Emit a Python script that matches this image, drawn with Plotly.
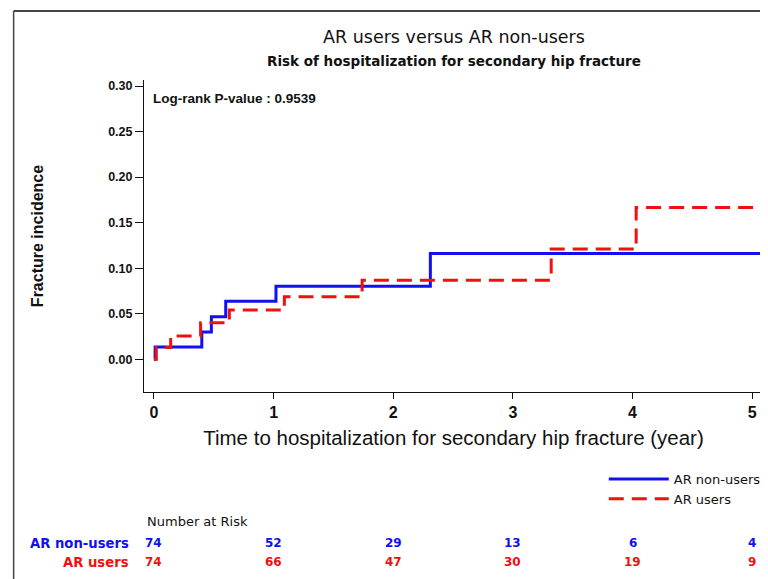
import plotly.graph_objects as go

# ---- data ----
nonusers_t = [0, 0.01, 0.40, 0.48, 0.60, 1.02, 2.31, 5.12]
nonusers_y = [0, 0.0135, 0.030, 0.0465, 0.0637, 0.080, 0.116, 0.116]
users_t = [0, 0.02, 0.14, 0.39, 0.63, 1.09, 1.74, 3.32, 4.03, 5.12]
users_y = [0, 0.013, 0.0256, 0.040, 0.054, 0.0685, 0.0868, 0.121, 0.1667, 0.1667]

risk_times = [0, 1, 2, 3, 4, 5]
risk_nonusers = [74, 52, 29, 13, 6, 4]
risk_users = [74, 66, 47, 30, 19, 9]

y_ticks = [0.00, 0.05, 0.10, 0.15, 0.20, 0.25, 0.30]
x_ticks = [0, 1, 2, 3, 4, 5]

BLUE = "#1010f0"
RED = "#f01010"

OFF = 8  # page body margin
W, H = 768 - OFF, 579 - OFF
# plot area in screen pixels: left 144, right 766, top 80, bottom 392
ML, MR, MT = 144 - OFF, 2, 80 - OFF
MB = H - (392 - OFF)
PW, PH = W - ML - MR, H - MT - MB


def px(xs):
    return (xs - OFF - ML) / PW


def py(ys):
    return ((392 - OFF) - (ys - OFF)) / PH


fig = go.Figure()
fig.add_trace(go.Scatter(x=nonusers_t, y=nonusers_y, mode="lines", line_shape="hv",
                         line=dict(color=BLUE, width=3), name="AR non-users"))
fig.add_trace(go.Scatter(x=users_t, y=users_y, mode="lines", line_shape="hv",
                         line=dict(color=RED, width=3, dash="15px,8px"), name="AR users"))

ann = []
ann.append(dict(text="AR users versus AR non-users",
                xref="paper", yref="paper", x=px(455), y=py(37), xanchor="center", yanchor="middle",
                showarrow=False, font=dict(family="DejaVu Sans", size=17.5, color="#111")))
ann.append(dict(text="<b>Risk of hospitalization for secondary hip fracture</b>",
                xref="paper", yref="paper", x=px(455), y=py(61), xanchor="center", yanchor="middle",
                showarrow=False, font=dict(family="DejaVu Sans", size=13.5, color="#111")))
ann.append(dict(text="<b>Log-rank P-value : 0.9539</b>",
                xref="paper", yref="paper", x=px(151), y=py(98), xanchor="left", yanchor="middle",
                showarrow=False, font=dict(family="Liberation Sans", size=13.5, color="#111")))
ann.append(dict(text="Number at Risk", xref="paper", yref="paper", x=px(145), y=py(521),
                xanchor="left", yanchor="middle", showarrow=False,
                font=dict(family="DejaVu Sans", size=13, color="#111")))
ann.append(dict(text="<b>AR non-users</b>", xref="paper", yref="paper", x=px(131), y=py(543),
                xanchor="right", yanchor="middle", showarrow=False,
                font=dict(family="DejaVu Sans", size=13.2, color=BLUE)))
ann.append(dict(text="<b>AR users</b>", xref="paper", yref="paper", x=px(131), y=py(562),
                xanchor="right", yanchor="middle", showarrow=False,
                font=dict(family="DejaVu Sans", size=13.2, color=RED)))
for t, a, b in zip(risk_times, risk_nonusers, risk_users):
    ann.append(dict(text=f"<b>{a}</b>", xref="x", yref="paper", x=t, y=py(543),
                    xanchor="center", yanchor="middle", showarrow=False,
                    font=dict(family="DejaVu Sans", size=12, color=BLUE)))
    ann.append(dict(text=f"<b>{b}</b>", xref="x", yref="paper", x=t, y=py(562),
                    xanchor="center", yanchor="middle", showarrow=False,
                    font=dict(family="DejaVu Sans", size=12, color=RED)))

shapes = [
    dict(type="line", xref="paper", yref="paper", x0=px(13), x1=px(780), y0=py(11), y1=py(11),
         line=dict(color="#444", width=2)),
    dict(type="line", xref="paper", yref="paper", x0=px(13), x1=px(13), y0=py(11), y1=py(600),
         line=dict(color="#444", width=1.5)),
]

fig.update_layout(
    width=W, height=H,
    margin=dict(l=ML, r=MR, t=MT, b=MB),
    paper_bgcolor="white", plot_bgcolor="white",
    annotations=ann, shapes=shapes,
    showlegend=True,
    legend=dict(x=px(606), y=py(464), xanchor="left", yanchor="top",
                font=dict(family="DejaVu Sans", size=13, color="#111"),
                bgcolor="rgba(0,0,0,0)", tracegroupgap=0, itemwidth=60),
    xaxis=dict(range=[-0.083, 5.09], tickvals=x_ticks, ticktext=[f"<b>{v}</b>" for v in x_ticks],
               showgrid=False, zeroline=False, showline=True, linecolor="#111", linewidth=1,
               ticks="outside", ticklen=6, tickcolor="#111",
               tickfont=dict(family="Liberation Sans", size=16, color="#111"),
               title=dict(text="Time to hospitalization for secondary hip fracture (year)",
                          font=dict(family="Liberation Sans", size=20.5, color="#111"), standoff=10)),
    yaxis=dict(range=[-0.036, 0.3066], tickvals=y_ticks,
               ticktext=[f"<b>{v:.2f}</b>" for v in y_ticks],
               showgrid=False, zeroline=False, showline=True, linecolor="#111", linewidth=1,
               ticks="outside", ticklen=8, tickcolor="#111",
               tickfont=dict(family="Liberation Sans", size=12.5, color="#111"),
               title=dict(text="<b>Fracture incidence</b>",
                          font=dict(family="Liberation Sans", size=16, color="#111"), standoff=60)),
)

fig.write_html("out.html")
